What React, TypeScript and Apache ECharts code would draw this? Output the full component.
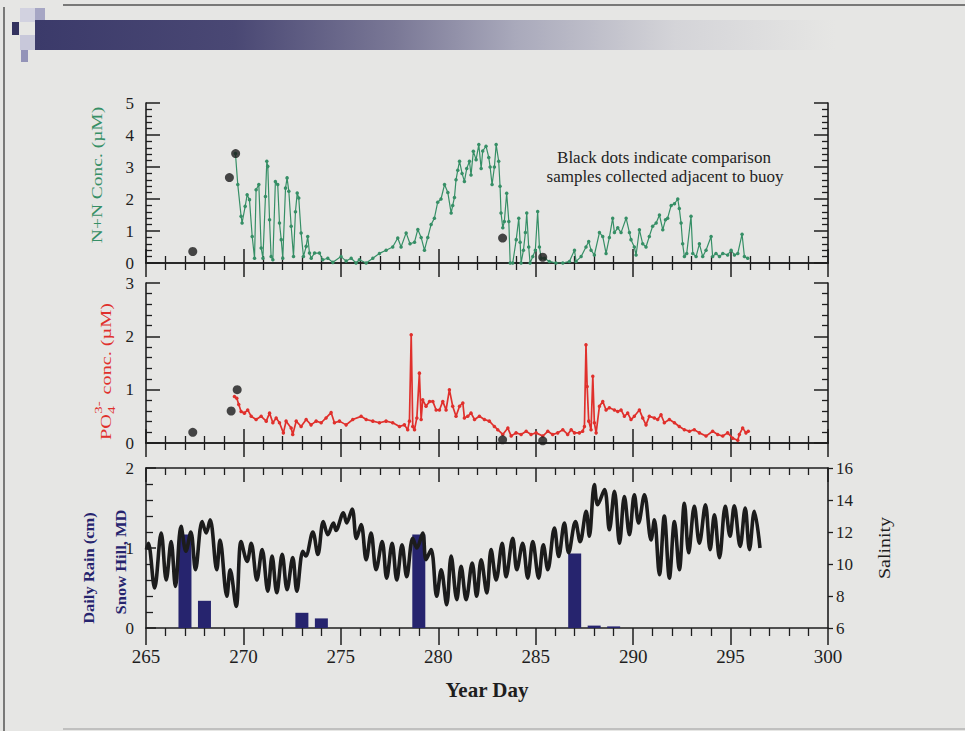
import React, { useEffect, useRef } from "react";
import * as echarts from "echarts";

const FONT = "'Liberation Serif', 'Times New Roman', serif";
const INK = "#1e1e1e";
const GREEN = "#368f66";
const RED = "#e0302c";
const NAVY = "#26246e";

// N+N concentration (µM) from buoy: [year day, value]
const nnSeries: [number, number][] = [
  [269.59, 3.42], [269.71, 2.45], [269.88, 1.46], [269.93, 1.25], [270.09, 1.77], [270.19, 2.13],
  [270.31, 1.98], [270.45, 0.83], [270.57, 0.15], [270.65, 2.29], [270.79, 2.45], [270.91, 0.47],
  [271.0, 0.15], [271.13, 2.08], [271.2, 3.18], [271.25, 3.02], [271.34, 1.35], [271.42, 0.2],
  [271.51, 0.1], [271.64, 2.55], [271.76, 2.45], [271.85, 1.25], [271.94, 0.73], [272.02, 0.15],
  [272.16, 2.34], [272.24, 2.66], [272.33, 2.24], [272.45, 1.15], [272.57, 0.2], [272.67, 1.6],
  [272.76, 2.19], [272.84, 2.03], [272.96, 0.94], [273.08, 0.2], [273.22, 0.52], [273.3, 0.83],
  [273.39, 0.31], [273.48, 0.15], [273.65, 0.31], [273.9, 0.31], [274.07, 0.1], [274.33, 0.15],
  [274.59, 0.02], [275.01, 0.2], [275.27, 0.06], [275.53, 0.15], [275.78, 0.0], [275.95, 0.1],
  [276.3, 0.0], [276.64, 0.15], [276.98, 0.3], [277.32, 0.4], [277.66, 0.5], [277.92, 0.78],
  [278.09, 0.5], [278.35, 0.94], [278.55, 0.6], [278.78, 0.65], [278.95, 1.05], [279.12, 0.8],
  [279.29, 0.4], [279.46, 0.8], [279.63, 1.2], [279.8, 1.4], [279.97, 1.9], [280.14, 2.0],
  [280.32, 2.45], [280.49, 2.2], [280.66, 1.56], [280.74, 1.8], [280.83, 2.05], [280.91, 2.6],
  [281.0, 2.9], [281.09, 3.18], [281.22, 2.8], [281.34, 2.55], [281.46, 2.95], [281.6, 3.18],
  [281.68, 2.75], [281.8, 3.49], [281.94, 3.23], [282.08, 3.7], [282.2, 2.95], [282.28, 3.5],
  [282.45, 3.65], [282.59, 3.3], [282.66, 3.0], [282.76, 2.45], [282.88, 3.0], [282.97, 3.7],
  [283.1, 3.18], [283.17, 2.4], [283.22, 1.56], [283.31, 1.1], [283.39, 1.3], [283.51, 2.18],
  [283.62, 1.3], [283.69, 0.0], [283.82, 0.0], [284.0, 0.73], [284.13, 1.4], [284.2, 0.65],
  [284.25, 0.0], [284.37, 0.4], [284.47, 0.95], [284.54, 1.56], [284.64, 0.5], [284.71, 0.0],
  [284.85, 0.2], [284.98, 0.4], [285.1, 1.61], [285.19, 0.5], [285.28, 0.15], [285.45, 0.15],
  [285.7, 0.05], [286.04, 0.0], [286.39, 0.0], [286.73, 0.05], [286.99, 0.4], [287.07, 0.05],
  [287.33, 0.2], [287.58, 0.5], [287.72, 0.67], [287.84, 0.4], [288.01, 0.25], [288.27, 0.95],
  [288.44, 0.83], [288.61, 0.3], [288.78, 0.8], [288.95, 1.4], [289.04, 0.95], [289.21, 1.1],
  [289.38, 0.95], [289.64, 1.4], [289.81, 0.95], [289.89, 0.73], [290.06, 0.5], [290.15, 0.25],
  [290.32, 1.04], [290.49, 0.6], [290.66, 0.5], [290.83, 0.83], [291.0, 1.15], [291.18, 1.25],
  [291.35, 1.5], [291.52, 1.04], [291.66, 1.35], [291.77, 1.4], [291.95, 1.8], [292.12, 1.85],
  [292.29, 2.0], [292.37, 1.7], [292.46, 1.25], [292.54, 0.6], [292.63, 0.2], [292.75, 0.3],
  [292.97, 1.46], [293.06, 0.3], [293.23, 0.2], [293.4, 0.6], [293.57, 0.2], [293.74, 0.4],
  [294.0, 0.83], [294.08, 0.2], [294.25, 0.3], [294.43, 0.2], [294.6, 0.3], [294.85, 0.25],
  [295.03, 0.4], [295.2, 0.25], [295.37, 0.3], [295.59, 0.9], [295.71, 0.2], [295.88, 0.15],
];

// Comparison samples (black dots), N+N
const nnSamples: [number, number][] = [
  [267.4, 0.36], [269.28, 2.67], [269.6, 3.42], [283.3, 0.78], [285.36, 0.18],
];

// PO4 3- concentration (µM)
const po4Series: [number, number][] = [
  [269.54, 0.87], [269.66, 0.84], [269.76, 0.72], [269.88, 0.59], [270.05, 0.56], [270.22, 0.62],
  [270.4, 0.5], [270.65, 0.44], [270.91, 0.5], [271.17, 0.41], [271.34, 0.56], [271.51, 0.38],
  [271.68, 0.47], [271.85, 0.38], [272.05, 0.19], [272.19, 0.41], [272.45, 0.28], [272.53, 0.16],
  [272.71, 0.41], [272.96, 0.31], [273.22, 0.44], [273.47, 0.34], [273.73, 0.41], [273.99, 0.38],
  [274.24, 0.47], [274.5, 0.57], [274.67, 0.38], [274.93, 0.41], [275.27, 0.34], [275.61, 0.44],
  [276.04, 0.5], [276.3, 0.44], [276.64, 0.41], [276.98, 0.38], [277.32, 0.41], [277.66, 0.38],
  [278.01, 0.31], [278.26, 0.34], [278.43, 0.25], [278.52, 0.41], [278.61, 2.03], [278.69, 0.31],
  [278.78, 0.25], [278.9, 0.47], [279.03, 1.31], [279.12, 0.44], [279.2, 0.81], [279.37, 0.69],
  [279.55, 0.78], [279.72, 0.78], [279.89, 0.62], [280.06, 0.62], [280.23, 0.78], [280.4, 0.62],
  [280.57, 1.0], [280.74, 0.69], [280.91, 0.5], [281.09, 0.69], [281.26, 0.75], [281.34, 0.47],
  [281.51, 0.5], [281.68, 0.56], [281.86, 0.44], [282.11, 0.5], [282.37, 0.44], [282.62, 0.41],
  [282.88, 0.31], [283.05, 0.25], [283.31, 0.16], [283.57, 0.28], [283.74, 0.13], [283.99, 0.19],
  [284.25, 0.16], [284.51, 0.22], [284.76, 0.16], [285.02, 0.19], [285.36, 0.13], [285.62, 0.22],
  [285.87, 0.16], [286.13, 0.19], [286.39, 0.25], [286.64, 0.16], [286.82, 0.25], [286.99, 0.19],
  [287.24, 0.19], [287.41, 0.22], [287.5, 0.31], [287.58, 1.84], [287.64, 1.06], [287.72, 0.41],
  [287.84, 0.25], [287.93, 1.25], [288.01, 0.38], [288.1, 0.19], [288.27, 0.69], [288.44, 0.78],
  [288.61, 0.62], [288.78, 0.66], [289.04, 0.62], [289.21, 0.59], [289.38, 0.62], [289.55, 0.5],
  [289.72, 0.56], [289.89, 0.44], [290.06, 0.5], [290.32, 0.62], [290.49, 0.47], [290.66, 0.34],
  [290.83, 0.5], [291.09, 0.47], [291.26, 0.44], [291.43, 0.53], [291.6, 0.38], [291.86, 0.44],
  [292.12, 0.38], [292.37, 0.31], [292.63, 0.25], [292.89, 0.22], [293.14, 0.25], [293.4, 0.19],
  [293.74, 0.13], [294.08, 0.22], [294.34, 0.16], [294.6, 0.13], [294.85, 0.19], [295.11, 0.09],
  [295.37, 0.05], [295.45, 0.16], [295.62, 0.28], [295.79, 0.19], [295.91, 0.22],
];

// Comparison samples (black dots), PO4
const po4Samples: [number, number][] = [
  [267.4, 0.2], [269.37, 0.6], [269.68, 1.0], [283.3, 0.06], [285.36, 0.04],
];

// Daily rain, Snow Hill MD (cm)
const rainBars: [number, number][] = [
  [267, 1.17], [268, 0.34], [273, 0.19], [274, 0.12], [279, 1.17], [287, 0.93], [288, 0.03], [289, 0.02],
];

// Salinity (tidal highs and lows)
const salinitySeries: [number, number][] = [
  [265.02, 10.9], [265.12, 11.3], [265.44, 8.5], [265.78, 11.94], [266.04, 9.0], [266.29, 11.4],
  [266.51, 8.6], [266.8, 12.35], [267.05, 10.8], [267.3, 12.0], [267.54, 9.65], [267.88, 12.66],
  [268.09, 11.94], [268.29, 12.77], [268.63, 9.64], [268.8, 11.5], [269.15, 7.98], [269.32, 9.64],
  [269.63, 7.35], [269.88, 11.4], [270.19, 10.16], [270.4, 11.3], [270.69, 9.0], [270.96, 10.9],
  [271.25, 8.3], [271.47, 10.5], [271.71, 8.2], [271.99, 10.6], [272.24, 8.4], [272.53, 10.4],
  [272.74, 8.3], [273.05, 10.8], [273.2, 10.5], [273.56, 12.0], [273.82, 10.6], [274.1, 12.66],
  [274.33, 11.83], [274.62, 12.56], [274.75, 12.1], [275.13, 13.2], [275.3, 12.56], [275.58, 13.44],
  [275.8, 11.6], [276.04, 12.46], [276.3, 10.27], [276.55, 11.94], [276.81, 9.64], [277.12, 11.4],
  [277.35, 9.12], [277.63, 11.3], [277.87, 9.0], [278.14, 11.2], [278.38, 9.2], [278.69, 11.6],
  [278.9, 11.0], [279.2, 11.94], [279.37, 10.27], [279.63, 10.9], [279.92, 7.98], [280.15, 9.64],
  [280.43, 7.46], [280.66, 10.5], [280.95, 7.77], [281.17, 9.85], [281.43, 7.77], [281.74, 10.06],
  [281.97, 7.98], [282.2, 10.27], [282.49, 8.19], [282.71, 10.9], [282.97, 9.0], [283.28, 11.3],
  [283.48, 9.2], [283.82, 11.6], [284.03, 9.64], [284.33, 11.3], [284.59, 9.12], [284.85, 11.4],
  [285.15, 9.12], [285.39, 11.2], [285.62, 9.64], [285.96, 12.25], [286.18, 10.47], [286.47, 12.56],
  [286.69, 10.7], [287.04, 12.66], [287.28, 11.4], [287.59, 13.3], [287.75, 11.73], [288.01, 14.96],
  [288.18, 13.7], [288.53, 14.65], [288.78, 12.14], [289.04, 14.54], [289.3, 11.3], [289.55, 14.22],
  [289.81, 11.83], [290.06, 14.33], [290.28, 12.56], [290.58, 14.33], [290.92, 11.5], [291.09, 12.77],
  [291.35, 9.33], [291.6, 13.0], [291.86, 9.12], [292.12, 12.66], [292.37, 9.64], [292.63, 13.8],
  [292.85, 10.7], [293.14, 13.6], [293.4, 11.3], [293.71, 13.7], [293.95, 10.9], [294.17, 13.08],
  [294.43, 10.4], [294.73, 13.6], [294.97, 11.73], [295.19, 13.64], [295.49, 11.1], [295.75, 13.5],
  [295.97, 10.9], [296.22, 13.3], [296.51, 11.0],
];

const GRID_LEFT = 146;
const GRID_W = 682;
const GRID_H = 160;
const GRID_TOPS = [103, 283, 468];

const axisLine = { show: true, lineStyle: { color: INK, width: 1.6 } };

function xAxisDef(grid: number, position: "top" | "bottom", showLabels: boolean, inside: boolean) {
  return {
    type: "value",
    gridIndex: grid,
    position,
    min: 265,
    max: 300,
    interval: 5,
    axisLine,
    axisTick: { show: true, inside, length: inside ? 14 : 17, lineStyle: { color: INK, width: 1.5 } },
    minorTick: { show: true, splitNumber: 5, length: inside ? 7 : 8, lineStyle: { color: INK, width: 1.3 } },
    splitLine: { show: false },
    minorSplitLine: { show: false },
    axisLabel: {
      show: showLabels,
      fontFamily: FONT,
      fontSize: 19,
      color: INK,
      margin: 19,
    },
  };
}

function yAxisDef(
  grid: number,
  position: "left" | "right",
  min: number,
  max: number,
  showLabels: boolean,
  majorLen: number,
  minorLen: number
) {
  return {
    type: "value",
    gridIndex: grid,
    position,
    min,
    max,
    interval: 1,
    axisLine,
    axisTick: { show: true, inside: true, length: majorLen, lineStyle: { color: INK, width: 1.5 } },
    minorTick: { show: true, splitNumber: 5, length: minorLen, lineStyle: { color: INK, width: 1.3 } },
    splitLine: { show: false },
    minorSplitLine: { show: false },
    axisLabel: {
      show: showLabels,
      fontFamily: FONT,
      fontSize: 17,
      color: INK,
      margin: 12,
    },
  };
}

function rotatedText(text: string, x: number, y: number, color: string, fontSize: number, bold: boolean, scale: number) {
  return {
    type: "text",
    x,
    y,
    rotation: Math.PI / 2,
    scaleX: scale,
    style: {
      text,
      fill: color,
      font: `${bold ? "bold " : ""}${fontSize}px ${FONT}`,
      textAlign: "center",
      textVerticalAlign: "middle",
    },
    z: 10,
  };
}

export default function App() {
  const ref = useRef<HTMLDivElement>(null);

  useEffect(() => {
    if (!ref.current) return;
    const chart = echarts.init(ref.current, null, { renderer: "svg" });

    const grids = GRID_TOPS.map((top) => ({ left: GRID_LEFT, width: GRID_W, top, height: GRID_H, containLabel: false }));

    const xAxes = [
      xAxisDef(0, "bottom", false, true),
      xAxisDef(0, "top", false, true),
      xAxisDef(1, "bottom", false, true),
      xAxisDef(1, "top", false, true),
      xAxisDef(2, "bottom", true, false),
      xAxisDef(2, "top", false, true),
    ];

    const yAxes: any[] = [
      yAxisDef(0, "left", 0, 5, true, 14, 6),
      yAxisDef(0, "right", 0, 5, false, 14, 6),
      yAxisDef(1, "left", 0, 3, true, 14, 6),
      yAxisDef(1, "right", 0, 3, false, 14, 6),
      yAxisDef(2, "left", 0, 2, true, 10, 7),
      {
        type: "value",
        gridIndex: 2,
        position: "right",
        min: 6,
        max: 16,
        interval: 2,
        axisLine,
        axisTick: { show: true, inside: false, length: 5, lineStyle: { color: INK, width: 1.3 } },
        minorTick: { show: false },
        splitLine: { show: false },
        axisLabel: { fontFamily: FONT, fontSize: 17, color: INK, margin: 8 },
      },
    ];

    const option: any = {
      animation: false,
      backgroundColor: "#e6e6e4",
      grid: grids,
      xAxis: xAxes,
      yAxis: yAxes,
      series: [
        {
          type: "line",
          xAxisIndex: 0,
          yAxisIndex: 0,
          data: nnSeries,
          symbol: "circle",
          symbolSize: 3.5,
          lineStyle: { color: GREEN, width: 1.2 },
          itemStyle: { color: GREEN },
          z: 3,
        },
        {
          type: "scatter",
          xAxisIndex: 0,
          yAxisIndex: 0,
          data: nnSamples,
          symbolSize: 9,
          itemStyle: { color: "#1c1c1c" },
          z: 4,
        },
        {
          type: "line",
          xAxisIndex: 2,
          yAxisIndex: 2,
          data: po4Series,
          symbol: "circle",
          symbolSize: 3.5,
          lineStyle: { color: RED, width: 1.7 },
          itemStyle: { color: RED },
          z: 3,
        },
        {
          type: "scatter",
          xAxisIndex: 2,
          yAxisIndex: 2,
          data: po4Samples,
          symbolSize: 9,
          itemStyle: { color: "#1c1c1c" },
          z: 4,
        },
        {
          type: "bar",
          xAxisIndex: 4,
          yAxisIndex: 4,
          data: rainBars,
          barWidth: 13,
          itemStyle: { color: NAVY },
          z: 2,
        },
        {
          type: "line",
          xAxisIndex: 4,
          yAxisIndex: 5,
          data: salinitySeries,
          symbol: "none",
          smooth: 0.35,
          lineStyle: { color: "#1c1c1c", width: 3.6 },
          z: 3,
        },
      ],
      graphic: [
        // frame
        { type: "line", shape: { x1: 63, y1: 5, x2: 965, y2: 5 }, style: { stroke: "#555", lineWidth: 1.5 } },
        { type: "line", shape: { x1: 4, y1: 7, x2: 4, y2: 731 }, style: { stroke: "#555", lineWidth: 1.5 } },
        { type: "line", shape: { x1: 63, y1: 729, x2: 965, y2: 729 }, style: { stroke: "#9a9a9a", lineWidth: 1.2 } },
        // header banner
        {
          type: "rect",
          shape: { x: 35, y: 20, width: 800, height: 30 },
          style: {
            fill: {
              type: "linear",
              x: 0, y: 0, x2: 1, y2: 0,
              colorStops: [
                { offset: 0, color: "#3b3a6a" },
                { offset: 0.25, color: "#4a4874" },
                { offset: 0.45, color: "#7a7896" },
                { offset: 0.6, color: "#a9a9bb" },
                { offset: 0.8, color: "#d4d4d8" },
                { offset: 1, color: "#e6e6e4" },
              ],
            },
          },
        },
        { type: "rect", shape: { x: 12, y: 22, width: 7, height: 13 }, style: { fill: "#34335f" } },
        { type: "rect", shape: { x: 20, y: 8, width: 15, height: 14 }, style: { fill: "#d2d2e0" } },
        { type: "rect", shape: { x: 35, y: 8, width: 10, height: 12 }, style: { fill: "#a6a6c4" } },
        { type: "rect", shape: { x: 20, y: 35, width: 15, height: 15 }, style: { fill: "#c8c8da" } },
        { type: "rect", shape: { x: 21, y: 50, width: 7, height: 12 }, style: { fill: "#9494b8" } },
        // annotation
        {
          type: "text",
          x: 664,
          y: 157,
          style: { text: "Black dots indicate comparison", fill: INK, font: `17px ${FONT}`, textAlign: "center", textVerticalAlign: "middle" },
        },
        {
          type: "text",
          x: 665,
          y: 176,
          style: { text: "samples collected adjacent to buoy", fill: INK, font: `17px ${FONT}`, textAlign: "center", textVerticalAlign: "middle" },
        },
        // axis titles
        rotatedText("N+N Conc. (µM)", 97, 175, GREEN, 15, false, 1.3),
        {
          type: "group",
          x: 106,
          y: 440,
          rotation: Math.PI / 2,
          scaleX: 1.35,
          children: [
            { type: "text", x: 0, y: 0, style: { text: "PO", fill: RED, font: `15px ${FONT}`, textAlign: "left", textVerticalAlign: "middle" } },
            { type: "text", x: 19.5, y: 5, style: { text: "4", fill: RED, font: `11px ${FONT}`, textAlign: "left", textVerticalAlign: "middle" } },
            { type: "text", x: 19.5, y: -8, style: { text: "3-", fill: RED, font: `11px ${FONT}`, textAlign: "left", textVerticalAlign: "middle" } },
            { type: "text", x: 30, y: 0, style: { text: " conc. (µM)", fill: RED, font: `15px ${FONT}`, textAlign: "left", textVerticalAlign: "middle" } },
          ],
        },
        rotatedText("Daily Rain (cm)", 89, 568, NAVY, 15, true, 1.1),
        rotatedText("Snow Hill, MD", 121, 562, NAVY, 15, true, 1.1),
        rotatedText("Salinity", 885, 548, INK, 16, false, 1.25),
        {
          type: "text",
          x: 487,
          y: 690,
          style: { text: "Year Day", fill: INK, font: `bold 21px ${FONT}`, textAlign: "center", textVerticalAlign: "middle" },
        },
      ],
    };

    chart.setOption(option);
    return () => chart.dispose();
  }, []);

  return (
    <div
      ref={ref}
      style={{ position: "fixed", left: 0, top: 0, width: 965, height: 731, background: "#e6e6e4" }}
    />
  );
}
